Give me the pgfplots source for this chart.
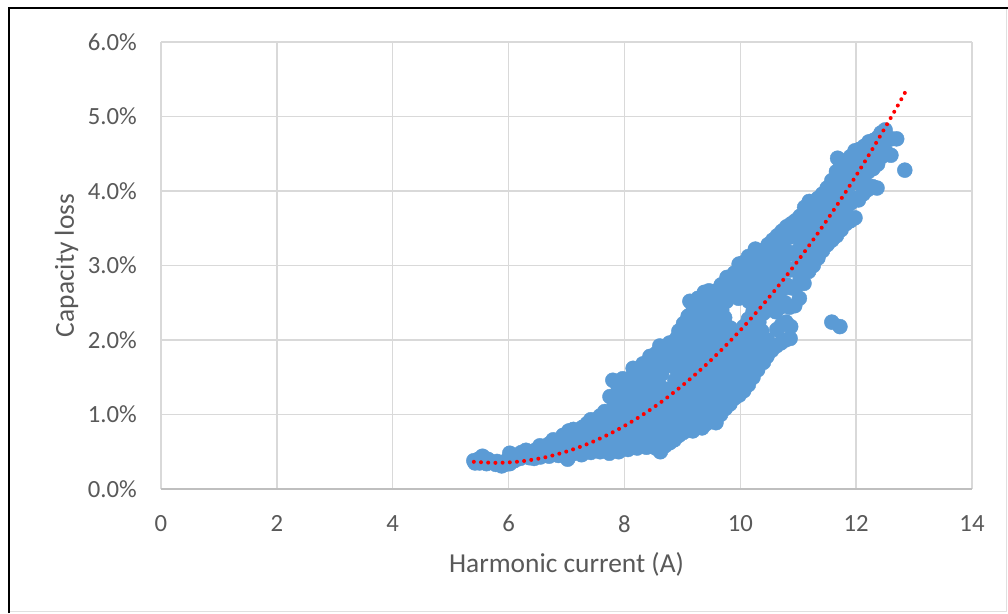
\documentclass[border=0pt]{standalone}
\usepackage{pgfplots}
\pgfplotsset{compat=1.18}
\usepackage{fontspec}
\setmainfont{Carlito}
\definecolor{dotblue}{HTML}{5B9BD5}
\definecolor{txtgray}{HTML}{595959}
\definecolor{gridgray}{HTML}{D9D9D9}
\definecolor{axgray}{HTML}{BFBFBF}
\begin{document}
\begin{tikzpicture}
\useasboundingbox (0pt,0pt) rectangle (1008pt,613pt);
\fill[white] (0pt,0pt) rectangle (1008pt,613pt);
\draw[line width=1pt, draw=black!12] (8pt,1.5pt) -- (1006.5pt,1.5pt) -- (1006.5pt,604pt);
\draw[line width=2pt, black] (8.5pt,0pt) -- (8.5pt,604.5pt) -- (1008pt,604.5pt);
\begin{axis}[
  clip mode=individual,
  at={(161pt,124pt)}, anchor=south west,
  width=811pt, height=447pt, scale only axis,
  xmin=0, xmax=14, ymin=0, ymax=6,
  xtick={0,2,...,14}, ytick={0,1,...,6},
  grid=major,
  major grid style={draw=gridgray, line width=1.5pt},
  axis x line*=bottom, axis y line*=left,
  x axis line style={draw=axgray, line width=1.5pt, -},
  y axis line style={draw=none, -},
  major tick length=0pt, tick style={draw=none},
  /pgf/number format/assume math mode=true,
  yticklabel={\pgfmathprintnumber[fixed,fixed zerofill,precision=1]{\tick}\%},
  xticklabel={\pgfmathprintnumber{\tick}},
  tick label style={font=\fontsize{24.7}{30}\selectfont, text=txtgray, inner sep=0pt},
  yticklabel style={anchor=east},
  xticklabel style={anchor=north},
  yticklabel shift=24pt,
  xticklabel shift=26pt,
  label style={font=\fontsize{27.4}{33}\selectfont, text=txtgray, inner sep=0pt},
  xlabel={Harmonic current (A)},
  ylabel={Capacity loss},
  xlabel style={at={(axis description cs:0.5,-0.1879)}, anchor=base},
  ylabel style={at={(axis description cs:-0.1073,0.5)}, anchor=base},
]
\addplot[only marks, mark=*, mark size=7.5pt, mark options={fill=dotblue, draw=dotblue}]
table[row sep=\\] {
x y\\
5.40 0.38\\ 5.42 0.35\\ 5.48 0.40\\ 5.50 0.35\\ 5.55 0.44\\ 5.57 0.36\\ 5.62 0.34\\ 5.64 0.40\\ 5.70 0.36\\
5.78 0.33\\ 5.80 0.37\\ 5.86 0.35\\ 5.88 0.31\\ 5.94 0.33\\ 5.96 0.38\\ 6.02 0.34\\ 6.02 0.48\\ 6.04 0.41\\
6.10 0.38\\ 6.12 0.45\\ 6.20 0.41\\ 6.22 0.49\\ 6.28 0.44\\ 6.30 0.52\\ 6.36 0.42\\ 6.38 0.49\\ 6.44 0.41\\
6.45 0.45\\ 6.46 0.52\\ 6.55 0.43\\ 6.56 0.50\\ 6.54 0.58\\ 6.62 0.46\\ 6.63 0.55\\ 6.70 0.44\\ 6.71 0.52\\
6.69 0.60\\ 6.78 0.47\\ 6.79 0.58\\ 6.77 0.66\\ 6.86 0.45\\ 6.87 0.55\\ 6.85 0.63\\ 6.95 0.49\\ 6.96 0.60\\ 6.94 0.72\\
7.02 0.40\\ 7.03 0.52\\ 7.01 0.66\\ 7.04 0.78\\
7.10 0.47\\ 7.11 0.58\\ 7.09 0.70\\ 7.12 0.80\\
7.18 0.50\\ 7.19 0.62\\ 7.17 0.74\\
7.26 0.46\\ 7.27 0.56\\ 7.25 0.68\\ 7.28 0.83\\
7.34 0.52\\ 7.35 0.64\\ 7.33 0.76\\ 7.36 0.88\\
7.42 0.49\\ 7.43 0.60\\ 7.41 0.72\\ 7.44 0.84\\ 7.42 0.93\\
7.50 0.54\\ 7.51 0.66\\ 7.49 0.80\\ 7.52 0.90\\
7.58 0.50\\ 7.59 0.61\\ 7.57 0.74\\ 7.60 0.87\\ 7.58 0.98\\
7.66 0.55\\ 7.67 0.68\\ 7.65 0.82\\ 7.68 0.95\\ 7.66 1.04\\
7.74 0.48\\ 7.75 0.60\\ 7.73 0.73\\ 7.76 0.88\\ 7.74 1.02\\ 7.75 1.24\\
7.82 0.53\\ 7.83 0.66\\ 7.81 0.80\\ 7.84 0.94\\ 7.82 1.10\\ 7.80 1.46\\
7.90 0.50\\ 7.91 0.62\\ 7.89 0.76\\ 7.92 0.90\\ 7.90 1.05\\ 7.91 1.20\\ 7.89 1.38\\
7.98 0.56\\ 7.99 0.70\\ 7.97 0.84\\ 8.00 0.98\\ 7.98 1.14\\ 7.99 1.30\\ 7.97 1.48\\
8.06 0.53\\ 8.07 0.66\\ 8.05 0.80\\ 8.08 0.93\\ 8.06 1.08\\ 8.07 1.24\\ 8.05 1.40\\
8.14 0.58\\ 8.15 0.72\\ 8.13 0.86\\ 8.16 1.00\\ 8.14 1.16\\ 8.15 1.32\\ 8.13 1.50\\ 8.15 1.62\\
8.22 0.55\\ 8.23 0.68\\ 8.21 0.82\\ 8.24 0.96\\ 8.22 1.10\\ 8.23 1.26\\ 8.21 1.42\\ 8.24 1.58\\
8.30 0.60\\ 8.31 0.74\\ 8.29 0.88\\ 8.32 1.04\\ 8.30 1.20\\ 8.31 1.36\\ 8.29 1.54\\ 8.32 1.68\\
8.38 0.56\\ 8.39 0.70\\ 8.37 0.84\\ 8.40 0.98\\ 8.38 1.14\\ 8.39 1.30\\ 8.37 1.46\\ 8.40 1.62\\ 8.44 1.78\\
8.46 0.62\\ 8.47 0.76\\ 8.45 0.92\\ 8.48 1.06\\ 8.46 1.22\\ 8.47 1.40\\ 8.45 1.56\\ 8.48 1.72\\
8.54 0.55\\ 8.55 0.68\\ 8.53 0.82\\ 8.56 0.96\\ 8.54 1.12\\ 8.55 1.28\\ 8.53 1.44\\ 8.56 1.60\\ 8.55 1.82\\
8.62 0.50\\ 8.63 0.64\\ 8.61 0.78\\ 8.64 0.92\\ 8.62 1.08\\ 8.63 1.24\\ 8.61 1.38\\ 8.64 1.54\\ 8.62 1.70\\ 8.61 1.92\\
8.70 0.58\\ 8.71 0.72\\ 8.69 0.88\\ 8.72 1.02\\ 8.70 1.18\\ 8.71 1.34\\ 8.72 1.66\\ 8.70 1.84\\
8.78 0.62\\ 8.79 0.76\\ 8.77 0.90\\ 8.80 1.06\\ 8.78 1.22\\ 8.80 1.76\\ 8.78 1.96\\
8.86 0.66\\ 8.87 0.80\\ 8.85 0.96\\ 8.88 1.12\\ 8.86 1.28\\ 8.87 1.46\\ 8.85 1.64\\ 8.88 1.82\\ 8.90 2.02\\
8.94 0.72\\ 8.95 0.86\\ 8.93 1.00\\ 8.96 1.16\\ 8.94 1.32\\ 8.95 1.50\\ 8.93 1.70\\ 8.96 1.90\\ 8.94 2.12\\
9.02 0.76\\ 9.03 0.92\\ 9.01 1.08\\ 9.04 1.24\\ 9.02 1.42\\ 9.03 1.60\\ 9.01 1.80\\ 9.04 2.00\\ 9.02 2.22\\
9.10 0.80\\ 9.11 0.96\\ 9.09 1.12\\ 9.12 1.30\\ 9.10 1.48\\ 9.11 1.66\\ 9.09 1.86\\ 9.12 2.08\\ 9.10 2.32\\ 9.13 2.52\\
9.18 0.78\\ 9.19 0.94\\ 9.17 1.10\\ 9.20 1.26\\ 9.18 1.44\\ 9.19 1.62\\ 9.17 1.82\\ 9.20 2.02\\ 9.18 2.24\\ 9.19 2.44\\
9.26 0.84\\ 9.27 1.00\\ 9.25 1.18\\ 9.28 1.36\\ 9.26 1.54\\ 9.27 1.74\\ 9.25 1.94\\ 9.28 2.14\\ 9.26 2.36\\ 9.27 2.56\\
9.34 0.82\\ 9.35 0.98\\ 9.33 1.14\\ 9.36 1.32\\ 9.34 1.50\\ 9.35 1.70\\ 9.33 1.90\\ 9.36 2.10\\ 9.34 2.30\\ 9.35 2.50\\ 9.38 2.64\\
9.42 0.88\\ 9.43 1.04\\ 9.41 1.22\\ 9.44 1.40\\ 9.42 1.60\\ 9.43 1.80\\ 9.41 2.00\\ 9.44 2.20\\ 9.42 2.42\\ 9.46 2.66\\
9.50 0.92\\ 9.51 1.10\\ 9.49 1.28\\ 9.52 1.46\\ 9.50 1.66\\ 9.51 1.86\\ 9.49 2.06\\ 9.52 2.28\\ 9.50 2.50\\ 9.53 2.64\\
9.58 0.89\\ 9.59 1.06\\ 9.57 1.24\\ 9.60 1.42\\ 9.58 1.62\\ 9.59 1.82\\ 9.57 2.04\\ 9.60 2.26\\ 9.58 2.46\\ 9.59 2.66\\
9.66 1.00\\ 9.67 1.18\\ 9.65 1.36\\ 9.68 1.56\\ 9.66 1.76\\ 9.67 1.96\\ 9.65 2.18\\ 9.68 2.40\\ 9.66 2.60\\ 9.67 2.74\\
9.74 1.08\\ 9.75 1.26\\ 9.73 1.46\\ 9.76 1.66\\ 9.74 1.86\\ 9.75 2.08\\ 9.73 2.30\\ 9.76 2.52\\ 9.74 2.72\\ 9.77 2.84\\
9.82 1.14\\ 9.83 1.32\\ 9.81 1.52\\ 9.84 1.72\\ 9.82 1.94\\ 9.83 2.16\\ 9.84 2.60\\ 9.82 2.80\\
9.90 1.22\\ 9.91 1.40\\ 9.89 1.60\\ 9.92 1.82\\ 9.90 2.04\\ 9.92 2.70\\ 9.90 2.90\\
9.98 1.26\\ 9.99 1.46\\ 9.97 1.66\\ 10.00 1.88\\ 9.98 2.10\\ 9.97 2.56\\ 10.00 2.78\\ 9.98 3.02\\
10.06 1.32\\ 10.07 1.52\\ 10.05 1.74\\ 10.08 1.96\\ 10.06 2.18\\ 10.05 2.64\\ 10.08 2.86\\ 10.06 3.04\\
10.14 1.40\\ 10.15 1.60\\ 10.13 1.82\\ 10.16 2.04\\ 10.14 2.28\\ 10.15 2.52\\ 10.13 2.74\\ 10.16 2.96\\ 10.14 3.12\\
10.22 1.50\\ 10.23 1.70\\ 10.21 1.92\\ 10.24 2.14\\ 10.22 2.38\\ 10.23 2.62\\ 10.21 2.84\\ 10.24 3.06\\ 10.26 3.22\\
10.30 1.60\\ 10.31 1.80\\ 10.29 2.02\\ 10.32 2.24\\ 10.30 2.48\\ 10.31 2.72\\ 10.29 2.94\\ 10.32 3.16\\
10.40 1.70\\ 10.39 1.90\\ 10.37 2.12\\ 10.40 2.36\\ 10.38 2.60\\ 10.39 2.82\\ 10.37 3.04\\ 10.40 3.20\\
10.46 1.78\\ 10.47 2.00\\ 10.48 2.46\\ 10.46 2.70\\ 10.47 2.92\\ 10.45 3.12\\ 10.48 3.28\\
10.54 1.86\\ 10.56 2.54\\ 10.54 2.78\\ 10.55 3.00\\ 10.53 3.20\\ 10.56 3.34\\
10.62 1.92\\ 10.63 2.14\\ 10.61 2.38\\ 10.64 2.62\\ 10.62 2.86\\ 10.63 3.08\\ 10.61 3.28\\ 10.64 3.40\\
10.70 1.96\\ 10.71 2.20\\ 10.69 2.44\\ 10.72 2.68\\ 10.70 2.92\\ 10.71 3.14\\ 10.69 3.34\\ 10.72 3.46\\
10.78 2.00\\ 10.79 2.24\\ 10.77 2.50\\ 10.80 2.74\\ 10.78 2.98\\ 10.79 3.20\\ 10.77 3.40\\ 10.80 3.52\\
10.86 2.02\\ 10.87 2.18\\ 10.85 2.44\\ 10.88 2.70\\ 10.86 2.94\\ 10.87 3.16\\ 10.85 3.38\\ 10.88 3.56\\
10.94 2.46\\ 10.95 2.70\\ 10.93 2.94\\ 10.96 3.18\\ 10.94 3.40\\ 10.95 3.60\\
11.02 2.56\\ 11.03 2.80\\ 11.01 3.04\\ 11.04 3.26\\ 11.02 3.48\\ 11.03 3.66\\
11.10 2.76\\ 11.11 2.98\\ 11.09 3.20\\ 11.12 3.42\\ 11.10 3.62\\ 11.11 3.78\\
11.18 2.92\\ 11.19 3.12\\ 11.17 3.34\\ 11.20 3.54\\ 11.18 3.74\\ 11.19 3.86\\
11.26 3.00\\ 11.27 3.22\\ 11.25 3.44\\ 11.28 3.64\\ 11.26 3.82\\
11.34 3.10\\ 11.35 3.30\\ 11.33 3.50\\ 11.36 3.70\\ 11.34 3.90\\
11.42 3.20\\ 11.43 3.40\\ 11.41 3.60\\ 11.44 3.80\\ 11.42 3.96\\
11.50 3.28\\ 11.51 3.48\\ 11.49 3.68\\ 11.52 3.88\\ 11.50 4.04\\
11.58 3.34\\ 11.59 3.56\\ 11.57 3.76\\ 11.60 3.96\\ 11.58 4.14\\ 11.58 2.24\\
11.66 3.40\\ 11.67 3.62\\ 11.65 3.84\\ 11.68 4.06\\ 11.66 4.26\\ 11.68 4.44\\ 11.72 2.18\\
11.74 3.48\\ 11.75 3.70\\ 11.73 3.92\\ 11.76 4.14\\ 11.74 4.36\\
11.82 3.56\\ 11.83 3.78\\ 11.81 4.00\\ 11.84 4.22\\ 11.82 4.40\\
11.90 3.60\\ 11.91 3.84\\ 11.89 4.08\\ 11.92 4.30\\ 11.90 4.46\\
11.98 3.64\\ 11.99 3.90\\ 11.97 4.14\\ 12.00 4.36\\ 11.98 4.54\\
12.04 3.88\\ 12.05 4.10\\ 12.03 4.32\\ 12.06 4.56\\
12.12 3.96\\ 12.13 4.18\\ 12.11 4.40\\ 12.14 4.60\\
12.20 4.02\\ 12.21 4.26\\ 12.19 4.48\\ 12.22 4.66\\
12.28 4.06\\ 12.29 4.30\\ 12.27 4.52\\ 12.30 4.68\\
12.36 4.04\\ 12.37 4.36\\ 12.35 4.58\\ 12.38 4.72\\
12.44 4.46\\ 12.45 4.66\\ 12.43 4.78\\
12.52 4.52\\ 12.50 4.82\\
12.60 4.48\\ 12.61 4.70\\
12.70 4.70\\
12.84 4.28\\
};
\addplot[red, line width=4pt, dash pattern=on 0pt off 7.2pt, line cap=round, smooth]
coordinates {(5.40,0.365)(5.80,0.351)(6.20,0.370)(6.60,0.420)(7.00,0.503)(7.40,0.616)(7.80,0.762)(8.20,0.939)(8.60,1.148)(9.00,1.389)(9.40,1.661)(9.80,1.966)(10.20,2.302)(10.60,2.670)(11.00,3.069)(11.40,3.501)(11.80,3.964)(12.20,4.458)(12.60,4.985)(12.85,5.33)};
\end{axis}
\end{tikzpicture}
\end{document}
